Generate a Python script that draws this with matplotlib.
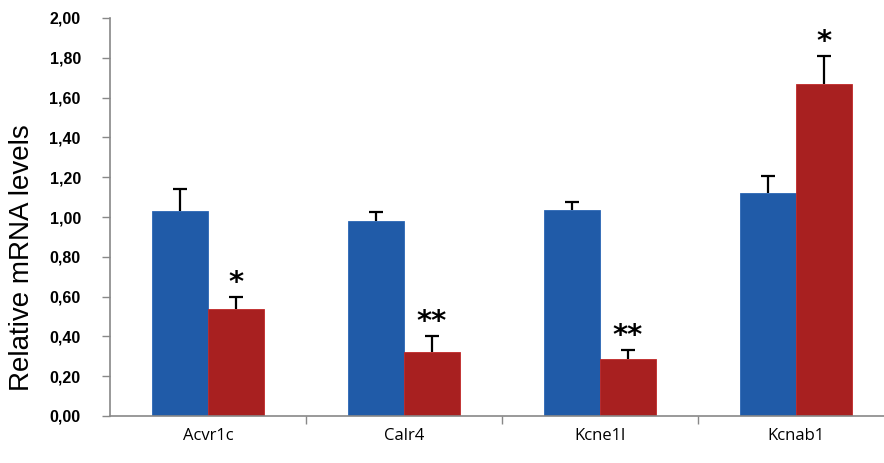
import matplotlib
matplotlib.use("Agg")
import matplotlib.pyplot as plt
import numpy as np

categories = ["Acvr1c", "Calr4", "Kcne1l", "Kcnab1"]
control = [1.03, 0.98, 1.035, 1.12]
control_err = [0.11, 0.045, 0.04, 0.085]
treated = [0.54, 0.32, 0.286, 1.667]
treated_err = [0.058, 0.08, 0.047, 0.143]
stars = ["*", "**", "**", "*"]
yticks = [0.0, 0.2, 0.4, 0.6, 0.8, 1.0, 1.2, 1.4, 1.6, 1.8, 2.0]

W, H = 884, 463
fig = plt.figure(figsize=(W / 100, H / 100), dpi=100)
ax = fig.add_axes([110 / W, (H - 416) / H, 784 / W, 398 / H])

x = np.arange(len(categories))
bw = 0.286
blue = "#205BA8"
red = "#A82020"
ax.bar(x - bw / 2, control, bw, color=blue, edgecolor="#2a66b5", linewidth=0.6, zorder=2)
ax.bar(x + bw / 2, treated, bw, color=red, edgecolor="#c02828", linewidth=0.6, zorder=2)

for xs, vals, errs in [(x - bw / 2, control, control_err), (x + bw / 2, treated, treated_err)]:
    tops = np.array(vals) + np.array(errs)
    ax.vlines(xs, vals, tops, colors="black", linewidth=1.6, zorder=3)
    ax.scatter(xs, tops, marker="_", s=90, color="black", linewidths=1.6, zorder=3)

for xi, v, e, s in zip(x, treated, treated_err, stars):
    ax.annotate(s, (xi + bw / 2, v + e), xytext=(0, 0), textcoords="offset points",
                ha="center", va="bottom", fontsize=21, fontweight="bold",
                family="DejaVu Sans")

ax.set_xlim(-0.5, 3.5)
ax.set_ylim(0, 2.0)
ax.set_yticks(yticks)
ax.set_yticklabels([f"{t:.2f}".replace(".", ",") for t in yticks],
                   fontsize=11.5, fontweight="bold", family="Liberation Sans")
ax.set_xticks([0.5, 1.5, 2.5])
ax.set_xticklabels([])
ax.tick_params(axis="x", length=6, width=1, color="#888888", direction="out")
ax.tick_params(axis="y", length=6, width=1, color="#888888", direction="out", pad=15)
for xi, c in zip(x, categories):
    ax.text(xi, -0.1, c, ha="center", va="center", fontsize=12,
            family="Open Sans", transform=ax.transData)
for sp in ["top", "right"]:
    ax.spines[sp].set_visible(False)
for sp in ["left", "bottom"]:
    ax.spines[sp].set_color("#888888")
    ax.spines[sp].set_linewidth(1.2)
fig.text(22 / W, 1 - 258 / H, "Relative mRNA levels", rotation=90, ha="center", va="center",
         fontsize=20, family="Liberation Sans")

fig.savefig("out.png", dpi=100)
